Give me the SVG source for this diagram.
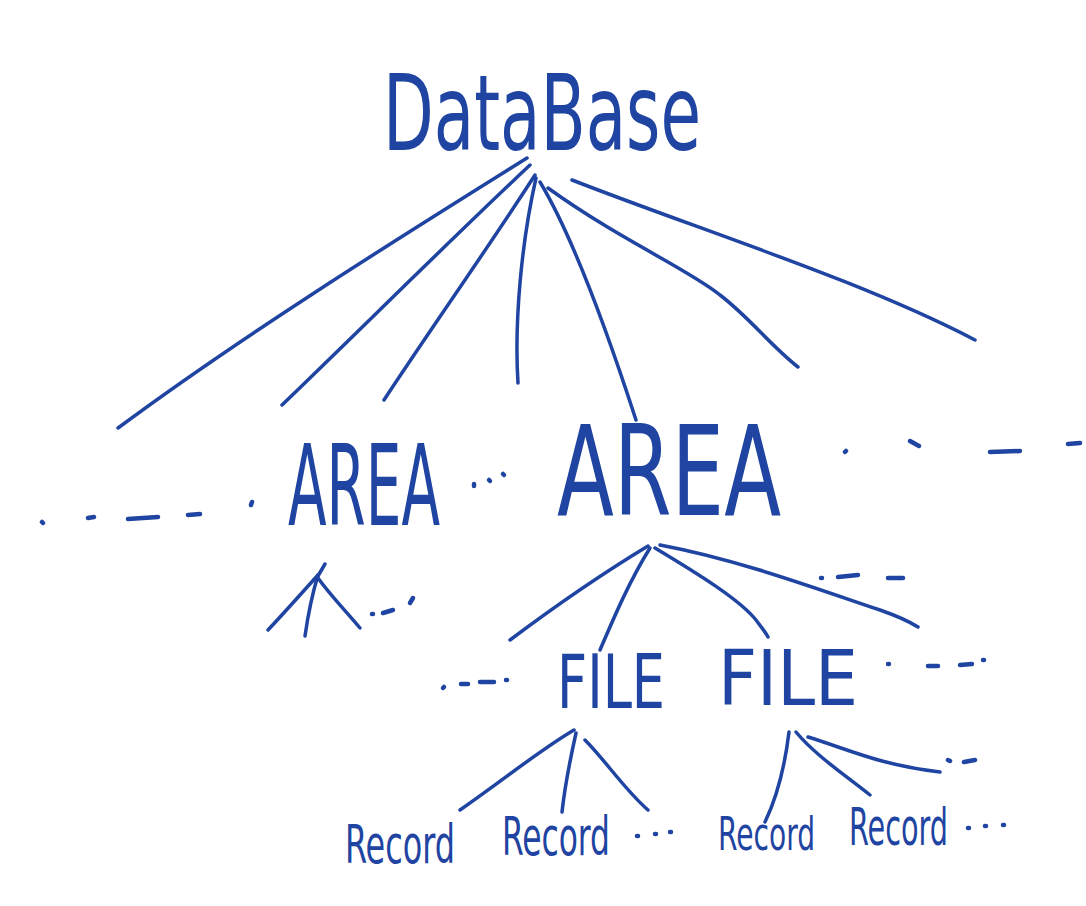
<svg xmlns="http://www.w3.org/2000/svg" width="1086" height="906" viewBox="0 0 1086 906">
<style>
.t{font-family:"Liberation Sans Narrow","DejaVu Sans Condensed","Liberation Sans",sans-serif;fill:#1f44a1;}
.c{fill:none;stroke:#1f44a1;stroke-width:3.5;stroke-linecap:round;stroke-linejoin:round;}
.d{fill:none;stroke:#1f44a1;stroke-width:4.5;stroke-linecap:round;}
</style>
<rect width="1086" height="906" fill="#ffffff"/>
<g id="connectors">
<path class="c" d="M527,158 C420,225 250,330 118,428"/>
<path class="c" d="M530,165 C450,240 360,330 282,405"/>
<path class="c" d="M535,175 C490,245 430,330 384,400"/>
<path class="c" d="M536,178 C522,240 514,320 518,383"/>
<path class="c" d="M540,182 C575,240 610,340 636,420"/>
<path class="c" d="M548,188 C620,240 690,270 720,295 C750,318 770,345 798,367"/>
<path class="c" d="M572,180 C700,230 860,280 975,340"/>
<path class="c" d="M648,546 C600,575 550,610 510,640"/>
<path class="c" d="M650,548 C630,580 615,615 600,650"/>
<path class="c" d="M655,548 C700,575 740,600 756,620 C762,628 766,633 768,637"/>
<path class="c" d="M660,545 C740,560 820,590 880,610 C900,617 910,622 918,627"/>
<path class="c" d="M318,575 C300,595 285,612 268,630"/>
<path class="c" d="M318,575 C312,595 308,615 305,636"/>
<path class="c" d="M318,578 C330,595 345,610 360,628"/>
<path class="c" d="M318,576 L325,564"/>
<path class="c" d="M574,730 C540,750 510,775 460,810"/>
<path class="c" d="M576,733 C570,760 565,785 562,812"/>
<path class="c" d="M585,740 C605,760 625,790 648,810"/>
<path class="c" d="M789,732 C785,765 778,795 765,822"/>
<path class="c" d="M796,732 C815,755 845,775 870,795"/>
<path class="c" d="M808,737 C850,750 880,765 940,772"/>
</g>
<g id="ellipses">
<path class="d" d="M42,522 L43,523 M88,518 L94,517 M128,519 L158,517 M188,515 L200,514 M251,505 L252,502"/>
<path class="d" d="M845,452 L846,451 M910,441 L919,446 M990,452 L1020,451 M1068,444 L1080,443"/>
<path class="d" d="M474,484 L474,486 M489,480 L490,481 M503,474 L504,475"/>
<path class="d" d="M372,614 L373,614 M383,613 L393,610 M410,603 L413,598"/>
<path class="d" d="M821,578 L822,578 M838,577 L858,575 M888,578 L903,578"/>
<path class="d" d="M443,688 L444,687 M461,684 L468,684 M480,682 L494,682 M506,680 L507,680"/>
<path class="d" d="M888,664 L889,664 M928,666 L938,666 M960,665 L972,664 M983,660 L984,660"/>
<path class="d" d="M637,836 L638,836 M655,834 L656,834 M670,832 L671,832"/>
<path class="d" d="M948,760 L950,761 M964,762 L975,760"/>
<path class="d" d="M968,828 L969,828 M985,826 L986,826 M1003,825 L1004,825"/>
</g>
<g id="database"><text class="t" x="383" y="150" font-size="105" textLength="318" lengthAdjust="spacingAndGlyphs">DataBase</text></g>
<g id="area1"><text class="t" x="288" y="525" font-size="112" textLength="152" lengthAdjust="spacingAndGlyphs">AREA</text></g>
<g id="area2"><text class="t" x="557" y="515" font-size="125" textLength="224" lengthAdjust="spacingAndGlyphs">AREA</text></g>
<g id="file1"><text class="t" x="557" y="708" font-size="74" textLength="108" lengthAdjust="spacingAndGlyphs">FILE</text></g>
<g id="file2"><text class="t" x="718" y="705" font-size="77" textLength="140" lengthAdjust="spacingAndGlyphs">FILE</text></g>
<g id="record1"><text class="t" x="345" y="863" font-size="54" textLength="110" lengthAdjust="spacingAndGlyphs">Record</text></g>
<g id="record2"><text class="t" x="502" y="855" font-size="53" textLength="108" lengthAdjust="spacingAndGlyphs">Record</text></g>
<g id="record3"><text class="t" x="718" y="850" font-size="47" textLength="97" lengthAdjust="spacingAndGlyphs">Record</text></g>
<g id="record4"><text class="t" x="849" y="845" font-size="52" textLength="99" lengthAdjust="spacingAndGlyphs">Record</text></g>
</svg>
